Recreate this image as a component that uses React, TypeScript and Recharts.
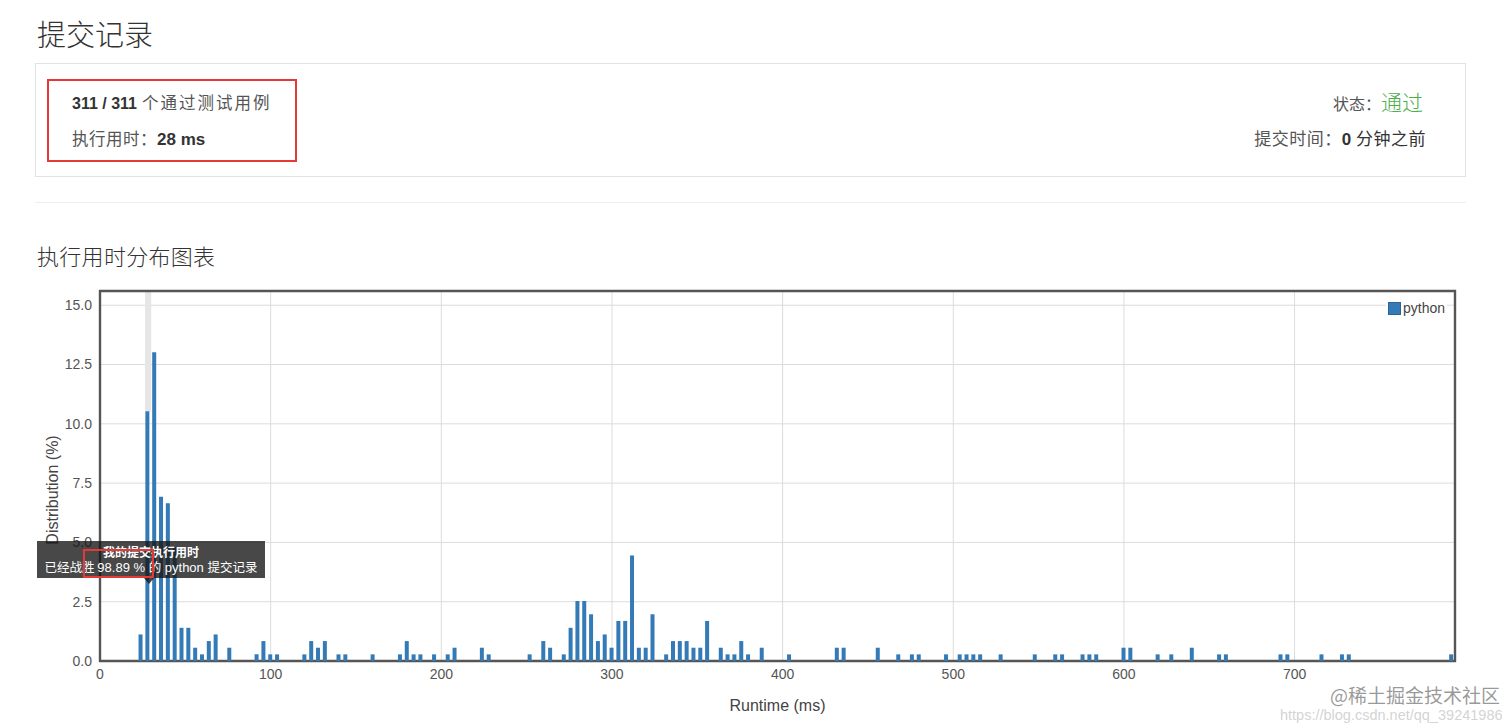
import React from 'react';
import { BarChart, Bar, XAxis, YAxis, CartesianGrid, ReferenceArea, Legend } from 'recharts';

const runtimeMs = [
  24, 28, 32, 36, 40, 44, 48, 52, 56, 60,
  64, 68, 76, 92, 96, 100, 104, 120, 124, 128,
  132, 140, 144, 160, 176, 180, 184, 188, 196, 204,
  208, 224, 228, 252, 260, 264, 272, 276, 280, 284,
  288, 292, 296, 300, 304, 308, 312, 316, 320, 324,
  332, 336, 340, 344, 348, 352, 356, 364, 368, 372,
  376, 380, 388, 404, 432, 436, 456, 468, 476, 480,
  496, 504, 508, 512, 516, 528, 548, 560, 564, 576,
  580, 584, 600, 604, 620, 628, 640, 656, 660, 692,
  696, 716, 728, 732, 792,
];

const distribution = [
  1.12, 10.53, 13.02, 6.92, 6.65, 4.8, 1.4, 1.4, 0.56, 0.28,
  0.84, 1.12, 0.56, 0.28, 0.84, 0.28, 0.28, 0.28, 0.84, 0.56,
  0.84, 0.28, 0.28, 0.28, 0.28, 0.84, 0.28, 0.28, 0.28, 0.28,
  0.56, 0.56, 0.28, 0.28, 0.84, 0.56, 0.28, 1.4, 2.53, 2.53,
  1.97, 0.84, 1.12, 0.56, 1.69, 1.69, 4.45, 0.56, 0.56, 1.97,
  0.28, 0.84, 0.84, 0.84, 0.56, 0.56, 1.69, 0.56, 0.28, 0.28,
  0.84, 0.28, 0.56, 0.28, 0.56, 0.56, 0.56, 0.28, 0.28, 0.28,
  0.28, 0.28, 0.28, 0.28, 0.28, 0.28, 0.28, 0.28, 0.28, 0.28,
  0.28, 0.28, 0.56, 0.56, 0.28, 0.28, 0.56, 0.28, 0.28, 0.28,
  0.28, 0.28, 0.28, 0.28, 0.28,
];

const xTicks = [0, 100, 200, 300, 400, 500, 600, 700];
const yTicks = [0, 2.5, 5, 7.5, 10, 12.5, 15];
const xDomain: [number, number] = [0, 794];
const yDomain: [number, number] = [0, 15.6];
const myRuntime = 28;
const seriesName = 'python';

const data = runtimeMs.map((r, i) => ({ runtime: r, value: distribution[i] }));
const myValue = distribution[runtimeMs.indexOf(myRuntime)];

const FONT = '"Liberation Sans", Arial, "Noto Sans CJK SC", sans-serif';
const CJK = '"Noto Sans CJK SC", sans-serif';
const BLUE = '#337ab7';

const YLabel = (props: any) => {
  const vb = props.viewBox || {};
  const cx = vb.x + 12;
  const cy = vb.y + vb.height / 2 + 14;
  return (
    <text
      x={cx}
      y={cy}
      transform={`rotate(-90, ${cx}, ${cy})`}
      textAnchor="middle"
      dominantBaseline="central"
      fill="#444"
      fontSize={16}
    >
      Distribution (%)
    </text>
  );
};

const XLabel = (props: any) => {
  const vb = props.viewBox || {};
  return (
    <text
      x={vb.x + vb.width / 2}
      y={vb.y + 44}
      textAnchor="middle"
      dominantBaseline="central"
      fill="#444"
      fontSize={16}
    >
      Runtime (ms)
    </text>
  );
};

const LegendContent = () => (
  <div style={{ display: 'flex', alignItems: 'center', background: '#fff', padding: '0 2px', fontSize: 14, color: '#444', lineHeight: '18px' }}>
    <span style={{ display: 'inline-block', width: 11, height: 11, background: BLUE, border: '1px solid #2a6496', marginRight: 2 }} />
    <span>{seriesName}</span>
  </div>
);

const abs = (s: React.CSSProperties): React.CSSProperties => ({ position: 'absolute', whiteSpace: 'nowrap', ...s });

export default function App() {
  return (
    <div style={{ position: 'absolute', left: 0, top: 0, width: 1512, height: 726, background: '#fff', overflow: 'hidden', fontFamily: FONT, color: '#333' }}>
      {/* header */}
      <div style={abs({ left: 37, top: 14, fontSize: 29, lineHeight: '38px', fontWeight: 300, color: '#333', fontFamily: CJK })}>提交记录</div>
      <div style={abs({ left: 35, top: 63, width: 1431, height: 114, border: '1px solid #e3e3e3', boxSizing: 'border-box' })} />
      <div style={abs({ left: 47, top: 79, width: 250, height: 83, border: '2px solid #e53935', boxSizing: 'border-box' })} />
      <div style={abs({ left: 72, top: 91, lineHeight: '22px', color: '#333' })}>
        <span style={{ fontWeight: 700, fontSize: 16 }}>311 / 311</span>
        <span style={{ fontSize: 16.5, color: '#555', fontFamily: CJK, marginLeft: 5, letterSpacing: 2 }}>个通过测试用例</span>
      </div>
      <div style={abs({ left: 72, top: 127, lineHeight: '22px', color: '#333' })}>
        <span style={{ fontSize: 16.5, color: '#555', fontFamily: CJK, letterSpacing: 0.5 }}>执行用时：</span>
        <span style={{ fontWeight: 700, fontSize: 17 }}>28 ms</span>
      </div>
      <div style={abs({ right: 1512 - 1423, top: 89, lineHeight: '24px' })}>
        <span style={{ fontSize: 16, color: '#555', fontFamily: CJK }}>状态：</span>
        <span style={{ fontSize: 21, color: '#4cae4c', fontFamily: CJK, fontWeight: 300 }}>通过</span>
      </div>
      <div style={abs({ right: 1512 - 1426, top: 127, lineHeight: '22px' })}>
        <span style={{ fontSize: 17, color: '#555', fontFamily: CJK, letterSpacing: 0.5 }}>提交时间：</span>
        <span style={{ fontSize: 17, fontWeight: 700, color: '#333' }}>0 </span>
        <span style={{ fontSize: 17, color: '#333', fontFamily: CJK, letterSpacing: 0.5 }}>分钟之前</span>
      </div>
      <div style={abs({ left: 35, top: 202, width: 1431, height: 1, background: '#eee' })} />
      <div style={abs({ left: 37, top: 240, fontSize: 22, lineHeight: '30px', fontWeight: 300, color: '#333', fontFamily: CJK, letterSpacing: 0.3 })}>执行用时分布图表</div>

      {/* chart */}
      <div style={abs({ left: 0, top: 280 })}>
        <BarChart width={1512} height={446} data={data} margin={{ top: 11, right: 57, bottom: 15, left: 40 }}>
          <CartesianGrid stroke="#dcdcdc" strokeWidth={1} />
          <ReferenceArea x1={myRuntime - 1.6} x2={myRuntime + 2} y1={myValue} y2={yDomain[1]} fill="#e6e6e6" fillOpacity={1} stroke="none" ifOverflow="visible" />
          <XAxis
            dataKey="runtime"
            type="number"
            domain={xDomain}
            ticks={xTicks}
            allowDataOverflow
            tickLine={false}
            axisLine={false}
            height={50}
            tick={{ fill: '#555', fontSize: 14 }}
            label={XLabel}
          />
          <YAxis
            type="number"
            domain={yDomain}
            ticks={yTicks}
            allowDataOverflow
            tickLine={false}
            axisLine={false}
            width={60}
            tick={{ fill: '#555', fontSize: 14 }}
            tickFormatter={(v: number) => v.toFixed(1)}
            label={YLabel}
          />
          <Bar dataKey="value" name={seriesName} fill={BLUE} barSize={4} isAnimationActive={false} />
          <ReferenceArea x1={xDomain[0]} x2={xDomain[1]} y1={yDomain[0]} y2={yDomain[1]} fill="none" stroke="#555" strokeWidth={2.4} ifOverflow="visible" />
          <Legend
            layout="vertical"
            align="center"
            verticalAlign="middle"
            content={LegendContent}
            wrapperStyle={{ top: 19, left: 1386, width: 'auto', height: 'auto' }}
          />
        </BarChart>
      </div>

      {/* hover tooltip */}
      <div style={abs({ left: 37, top: 541, width: 228, height: 37, background: 'rgba(20,20,20,0.78)', color: '#fff', fontSize: 13, textAlign: 'center', lineHeight: '15px', paddingTop: 3, boxSizing: 'border-box', fontFamily: FONT })}>
        <div style={{ fontWeight: 700, fontFamily: CJK, fontSize: 12 }}>我的提交执行用时</div>
        <div>
          <span style={{ fontFamily: CJK, fontSize: 12.5 }}>已经战胜 </span>
          <span>98.89 % </span>
          <span style={{ fontFamily: CJK, fontSize: 12.5 }}>的</span>
          <span> python </span>
          <span style={{ fontFamily: CJK, fontSize: 12.5 }}>提交记录</span>
        </div>
      </div>
      <div style={abs({ left: 144, top: 578, width: 0, height: 0, borderLeft: '5px solid transparent', borderRight: '5px solid transparent', borderTop: '6px solid rgba(20,20,20,0.78)' })} />
      <div style={abs({ left: 83, top: 549, width: 71, height: 29, border: '2px solid #e53935', boxSizing: 'border-box' })} />

      {/* watermark */}
      <div style={abs({ left: 1330, top: 685, fontSize: 19, lineHeight: '20px', color: 'rgba(120,120,120,0.75)', fontFamily: CJK })}>@稀土掘金技术社区</div>
      <div style={abs({ left: 1280, top: 708, fontSize: 14.5, lineHeight: '15px', color: 'rgba(200,200,200,0.8)' })}>https://blog.csdn.net/qq_39241986</div>
    </div>
  );
}
